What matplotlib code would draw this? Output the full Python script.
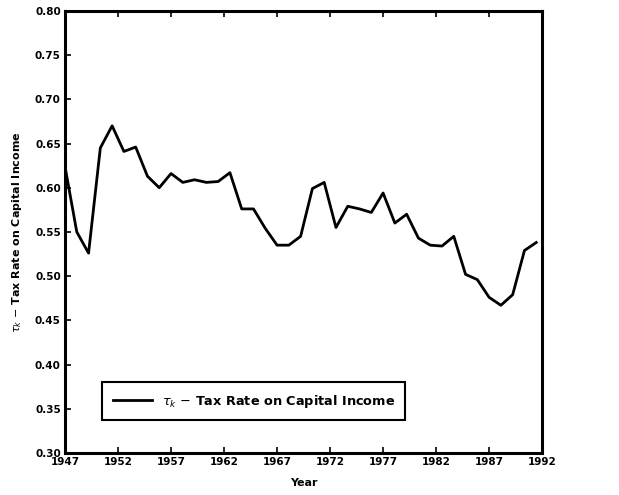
import numpy as np
import matplotlib
matplotlib.use("Agg")
import matplotlib.pyplot as plt

# capital income tax rate, annual 1947-1987
years = np.arange(1947, 1988)
tax_k = [0.624, 0.550, 0.526, 0.645, 0.670, 0.641, 0.646, 0.613, 0.600, 0.616,
         0.606, 0.609, 0.606, 0.607, 0.617, 0.576, 0.576, 0.554, 0.535, 0.535,
         0.545, 0.599, 0.606, 0.555, 0.579, 0.576, 0.572, 0.594, 0.560, 0.570,
         0.543, 0.535, 0.534, 0.545, 0.502, 0.496, 0.476, 0.467, 0.479, 0.529,
         0.538]

x_labels = [str(y) for y in range(1947, 1993, 5)]
y_ticks = np.arange(0.30, 0.801, 0.05)

fig = plt.figure(figsize=(6.19, 4.95), dpi=100)
ax = fig.add_axes([0.105, 0.085, 0.771, 0.893])

ax.plot(years, tax_k, color='black', lw=2.0, label=r'$\tau_k$ $-$ Tax Rate on Capital Income')

# the original plot stretches the 41 annual points over the whole axis span
x_end = 1947 + 477 / 11.775
ax.set_xlim(1947, x_end)
ax.set_xticks(np.linspace(1947, x_end, len(x_labels)))
ax.set_xticklabels(x_labels)
ax.set_ylim(0.30, 0.80)
ax.set_yticks(y_ticks)
ax.set_yticklabels(['%.2f' % v for v in y_ticks])

ax.tick_params(direction='in', length=4, width=1.2, top=True, right=False,
               labelsize=7.5, pad=3)
for lab in ax.get_xticklabels() + ax.get_yticklabels():
    lab.set_fontweight('bold')

for sp in ax.spines.values():
    sp.set_linewidth(2.2)

ax.set_xlabel('Year', fontsize=8, fontweight='bold', labelpad=8)
ax.set_ylabel(r'$\tau_k$ $-$ Tax Rate on Capital Income', fontsize=8,
              fontweight='bold', labelpad=8)

leg = ax.legend(loc='lower left', bbox_to_anchor=(0.065, 0.06), fancybox=False,
                edgecolor='black', framealpha=1, borderpad=0.8, handlelength=3.0,
                prop={'weight': 'bold', 'size': 9.3})
leg.get_frame().set_linewidth(1.5)

fig.savefig('out.png', dpi=100)
